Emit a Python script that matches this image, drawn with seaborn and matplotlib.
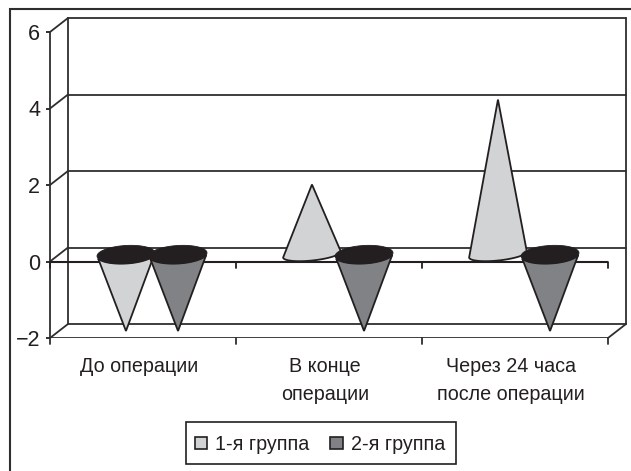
import numpy as np
import pandas as pd
import matplotlib
matplotlib.use("Agg")
import matplotlib.pyplot as plt
from matplotlib.patches import Patch, Polygon, Rectangle
from matplotlib.transforms import ScaledTranslation
import seaborn as sns

categories = ["До операции", "В конце\nоперации", "Через 24 часа\nпосле операции"]
groups = ["1-я группа", "2-я группа"]
group1 = [-2.0, 1.83, 4.05]
group2 = [-2.0, -2.0, -2.0]
y_ticks = [-2, 0, 2, 4, 6]

LIGHT, DARK, INK, LINE = "#d1d3d4", "#808285", "#231f20", "#2e2e2e"
W, H = 631, 471

sns.set_theme(style="white")
plt.rcParams["font.family"] = ["Liberation Sans", "DejaVu Sans"]

fig = plt.figure(figsize=(W / 100, H / 100), dpi=100)
L, R, T, B = 50, 608, 32, 338
ax = fig.add_axes([L / W, 1 - B / H, (R - L) / W, (B - T) / H])

df = pd.DataFrame({
    "cat": categories * 2,
    "group": [groups[0]] * 3 + [groups[1]] * 3,
    "value": group1 + group2,
})
sns.barplot(data=df, x="cat", y="value", hue="group", ax=ax, width=0.56, gap=0,
            legend=False, errorbar=None)
ax.set_xlim(-0.5, 2.5)
ax.set_ylim(-2, 6)
ax.set_xlabel("")
ax.set_ylabel("")
bars = list(ax.patches)
cone_data = [(b.get_x() + b.get_width() / 2, b.get_height()) for b in bars]
for b in bars:
    b.set_visible(False)

px = (R - L) / 3       # pixels per category
py = (B - T) / 8       # pixels per value unit
DX, DY = 18 / px, 14 / py   # depth of the 3-D box in data units
lw = 1.3

# back wall and floor / depth lines
for v in y_ticks:
    ax.plot([-0.5, -0.5 + DX], [v, v + DY], color=LINE, lw=lw, clip_on=False, zorder=1)
    ax.plot([-0.5 + DX, 2.5 + DX], [v + DY, v + DY], color=LINE, lw=lw, clip_on=False, zorder=1)
ax.plot([-0.5 + DX] * 2, [-2 + DY, 6 + DY], color=LINE, lw=lw, clip_on=False, zorder=1)
ax.plot([2.5 + DX] * 2, [-2 + DY, 6 + DY], color=LINE, lw=lw, clip_on=False, zorder=1)
ax.plot([2.5, 2.5 + DX], [-2, -2 + DY], color=LINE, lw=lw, clip_on=False, zorder=1)

# front axis lines and ticks
ax.axhline(-2, color=LINE, lw=lw, zorder=2)
ax.axhline(0, color=INK, lw=1.5, zorder=2)
ax.plot([-0.5, -0.5], [-2, 6], color=LINE, lw=lw, zorder=2, clip_on=False)
for x in [-0.5, 0.5, 1.5, 2.5]:
    ax.plot([x, x], [0, -6 / py], color=INK, lw=lw, zorder=2, clip_on=False)
    ax.plot([x, x], [-2, -2 - 6 / py], color=LINE, lw=lw, clip_on=False, zorder=2)
for s in ax.spines.values():
    s.set_visible(False)
ax.set_yticks(y_ticks)
ax.set_yticklabels(["−2", "0", "2", "4", "6"], fontsize=15.5, color=INK)
ax.tick_params(axis="y", length=3, width=lw, color=INK, left=True, pad=4)
ax.set_xticks([0, 1, 2])
ax.set_xticklabels(categories, fontsize=14.2, color=INK, linespacing=1.6)
ax.tick_params(axis="x", length=0, pad=14)
shift = ScaledTranslation(-4 / 100, 0, fig.dpi_scale_trans)
for lab in ax.get_xticklabels():
    lab.set_transform(lab.get_transform() + shift)


def ellipse(cx, cy, t, b, deg):
    a, rot = 29.0, np.radians(deg)
    ex = a * np.cos(t) * np.cos(rot) - b * np.sin(t) * np.sin(rot)
    ey = a * np.cos(t) * np.sin(rot) + b * np.sin(t) * np.cos(rot)
    return cx + ex / px, cy + ey / py


def cone(x, v, color):
    cx, cy = x + DX / 2, DY / 2
    tip = (cx, v + DY / 2)
    if v >= 0:
        t = np.linspace(np.pi, 2 * np.pi, 60)
        ex, ey = ellipse(cx, cy, t, 6.0, 6)
        pts = np.column_stack([np.r_[tip[0], ex], np.r_[tip[1], ey]])
        ax.add_patch(Polygon(pts, closed=True, fc=color, ec=INK, lw=lw, zorder=4, clip_on=False))
    else:
        t = np.linspace(np.radians(195), np.radians(345), 40)
        ex, ey = ellipse(cx, cy, t, 9.0, 3.5)
        pts = np.column_stack([np.r_[tip[0], ex], np.r_[tip[1], ey]])
        ax.add_patch(Polygon(pts, closed=True, fc=color, ec=INK, lw=lw, zorder=4, clip_on=False))
        t = np.linspace(0, 2 * np.pi, 80)
        ex, ey = ellipse(cx, cy, t, 9.0, 3.5)
        ax.add_patch(Polygon(np.column_stack([ex, ey]), closed=True, fc=INK, ec=INK, lw=0.6,
                             zorder=5, clip_on=False))


colors = [LIGHT] * 3 + [DARK] * 3
for (x, v), c in zip(cone_data, colors):
    cone(x, v, c)

# outer chart frame (runs off the right and bottom of the picture)
fig.add_artist(Rectangle((10 / W, 1 - 500 / H), 640 / W, 491 / H, transform=fig.transFigure,
                         fc="none", ec=LINE, lw=1.5))

# legend box
fig.add_artist(Rectangle((186 / W, 1 - 464 / H), 270 / W, 42 / H, transform=fig.transFigure,
                         fc="white", ec=INK, lw=1.2))
handles = [Patch(fc=LIGHT, ec=INK, lw=1.2), Patch(fc=DARK, ec=INK, lw=1.2)]
leg = fig.legend(handles, groups, loc="center", bbox_to_anchor=(320 / W, 1 - 444.5 / H),
                 ncol=2, frameon=False, fontsize=14.2, handlelength=0.62, handleheight=0.62,
                 handletextpad=0.42, columnspacing=1.05, labelcolor=INK)
leg.set_zorder(5)

fig.savefig("out.png", dpi=100)
